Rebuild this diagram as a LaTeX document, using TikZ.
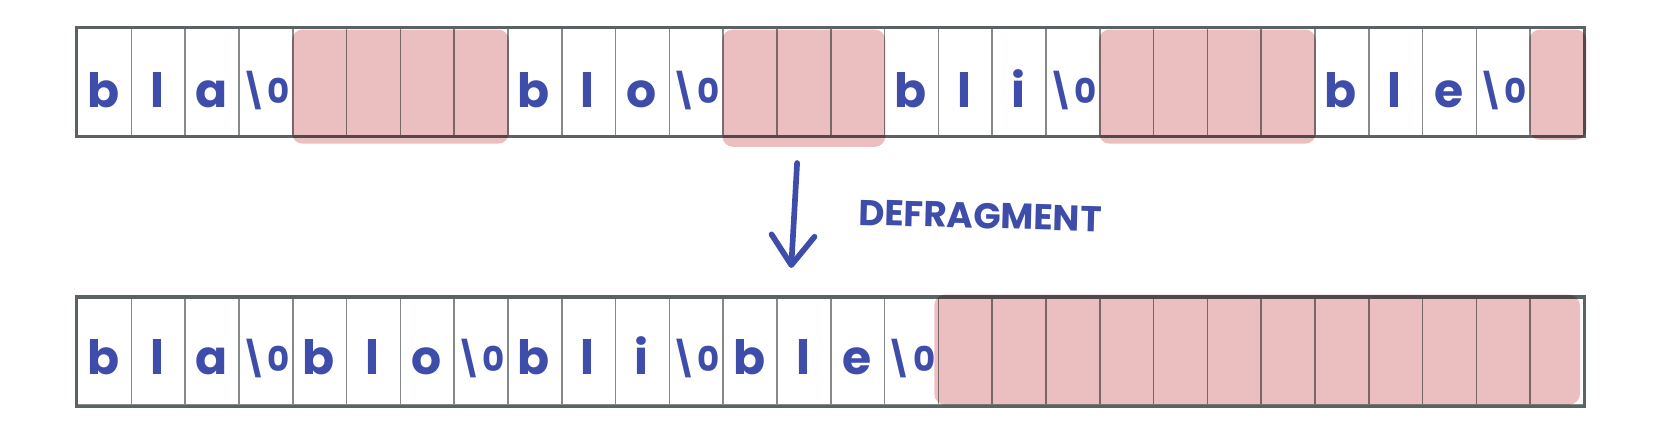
\documentclass[tikz,border=0pt]{standalone}
\usepackage{fontspec}
\setmainfont{Poppins}
\usetikzlibrary{arrows.meta}
\definecolor{ink}{RGB}{62,76,170}
\definecolor{frame}{RGB}{90,98,100}
\definecolor{divider}{RGB}{132,138,138}
\definecolor{freecell}{RGB}{235,190,192}
\begin{document}
\begin{tikzpicture}[x=1cm, y=1cm, font=\fontsize{25}{28}\selectfont\bfseries]
  \tikzstyle{cell}=[draw=divider, line width=0.9pt, minimum width=1cm, minimum height=2cm,
                    inner sep=0pt, anchor=south west]
  \tikzstyle{row}=[draw=frame, line width=1.7pt]
  \tikzstyle{free}=[fill=freecell, rounded corners=0.2cm]
  \tikzstyle{glyph}=[text=ink, anchor=base, inner sep=0pt]
  \tikzstyle{nul}=[glyph, font=\fontsize{18}{22}\selectfont\bfseries]

  \useasboundingbox (-1.4257,0) rectangle (29.782,8.16);

  % --- before: fragmented buffer ---
  \foreach \i in {0,...,27} \node[cell] (t\i) at (\i,5.62) {};
  \draw[row] (t0.south west) rectangle (t27.north east);
  \begin{scope}[blend mode=multiply]
    \fill[free] ([yshift=-0.04cm]t4.north west)  rectangle ([yshift=-0.13cm]t7.south east);
    \fill[free] ([yshift=-0.04cm]t12.north west) rectangle ([yshift=-0.19cm]t14.south east);
    \fill[free] ([yshift=-0.04cm]t19.north west) rectangle ([yshift=-0.13cm]t22.south east);
    \fill[free] ([yshift=-0.04cm]t27.north west) rectangle ([xshift=0.03cm,yshift=-0.06cm]t27.south east);
  \end{scope}
  \foreach \i/\c in {0/b,1/l,2/a,8/b,9/l,10/o,15/b,16/l,17/i,23/b,24/l,25/e}
    \node[glyph] (tg\i) at (\i+0.5,6.17) {\c};
  \foreach \i in {3,11,18,26}
    \node[nul] (tg\i) at (\i+0.5,6.24) {\textbackslash0};

  % --- after: compacted buffer ---
  \foreach \i in {0,...,27} \node[cell] (b\i) at (\i,0.61) {};
  \draw[row] (b0.south west) rectangle (b27.north east);
  \begin{scope}[blend mode=multiply]
    \fill[free] ([xshift=-0.06cm,yshift=0.04cm]b16.north west)
      rectangle ([xshift=-0.09cm,yshift=0.03cm]b27.south east);
  \end{scope}
  \foreach \i/\c in {0/b,1/l,2/a,4/b,5/l,6/o,8/b,9/l,10/i,12/b,13/l,14/e}
    \node[glyph] (bg\i) at (\i+0.5,1.19) {\c};
  \foreach \i in {3,7,11,15}
    \node[nul] (bg\i) at (\i+0.5,1.26) {\textbackslash0};

  % --- arrow between them ---
  \coordinate (src) at (13.39,5.13);
  \coordinate (dst) at (13.28,3.18);
  \draw[ink, line width=3pt, line cap=round,
        -{Straight Barb[length=0.55cm, width=0.8cm, round]}] (src) -- (dst);
  \node[text=ink, rotate=-1.5, font=\fontsize{19}{24}\selectfont\bfseries] (lbl) at (16.79,4.15) {DEFRAGMENT};
\end{tikzpicture}
\end{document}
